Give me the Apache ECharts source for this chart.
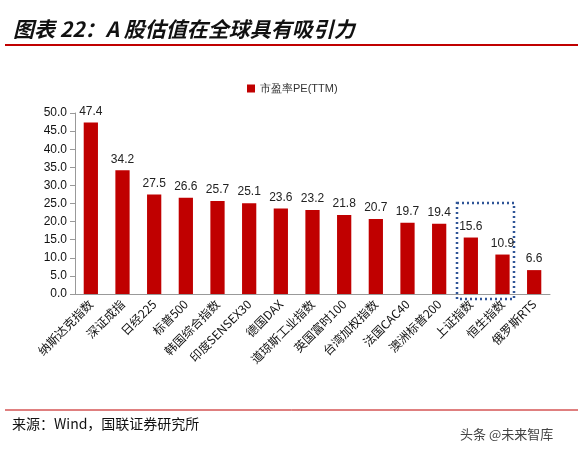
<!DOCTYPE html>
<html><head><meta charset="utf-8">
<script src="https://cdn.jsdelivr.net/npm/echarts@6/dist/echarts.min.js"></script>
<style>body{margin:0;background:#fff}#c{width:583px;height:457px}</style>
</head><body><div id="c"></div>
<script>
const categories=['纳斯达克指数','深证成指','日经225','标普500','韩国综合指数','印度SENSEX30','德国DAX','道琼斯工业指数','英国富时100','台湾加权指数','法国CAC40','澳洲标普200','上证指数','恒生指数','俄罗斯RTS'];
const peValues=[47.4,34.2,27.5,26.6,25.7,25.1,23.6,23.2,21.8,20.7,19.7,19.4,15.6,10.9,6.6];
const seriesName='市盈率PE(TTM)';
const chart=echarts.init(document.getElementById('c'));
chart.setOption({
  animation:false,
  title:{text:'图表 22：A 股估值在全球具有吸引力',left:8,top:14,textStyle:{fontSize:21,fontWeight:'bold',fontStyle:'italic',color:'#111',fontFamily:'Noto Sans CJK SC'}},
  legend:{data:[seriesName],top:78,left:242,itemWidth:8,itemHeight:8,icon:'rect',textStyle:{fontSize:11,color:'#333'}},
  grid:{left:75,right:33,top:113,bottom:163},
  xAxis:{type:'category',data:categories,axisTick:{show:false},axisLine:{lineStyle:{color:'#999'}},
    axisLabel:{rotate:45,interval:0,fontSize:12,color:'#111',fontFamily:'Noto Sans CJK SC'}},
  yAxis:{type:'value',min:0,max:50,interval:5,splitLine:{show:false},axisLine:{show:true,lineStyle:{color:'#999'}},axisTick:{show:true},
    axisLabel:{formatter:v=>v.toFixed(1),fontSize:12,color:'#111'}},
  series:[{name:seriesName,type:'bar',data:peValues,barWidth:'45%',itemStyle:{color:'#C00000'},
    label:{show:true,position:'top',fontSize:12,color:'#222'}}],
  graphic:[
    {type:'line',shape:{x1:5,y1:45,x2:578,y2:45},style:{stroke:'#C00000',lineWidth:2}},
    {type:'line',shape:{x1:5,y1:410,x2:578,y2:410},style:{stroke:'#C00000',lineWidth:1}},
    {type:'text',left:12,top:417,style:{text:'来源：Wind，国联证券研究所',fontSize:14,fill:'#111',fontFamily:'Noto Sans CJK SC'}},
    {type:'text',left:460,top:428,style:{text:'头条 @未来智库',fontSize:13,fill:'#444',fontFamily:'Noto Sans CJK SC'}},
    {type:'rect',shape:{x:457,y:203,width:57,height:96},style:{fill:'none',stroke:'#2F5597',lineWidth:2.5,lineDash:[2,3]}}
  ]
});
</script></body></html>
